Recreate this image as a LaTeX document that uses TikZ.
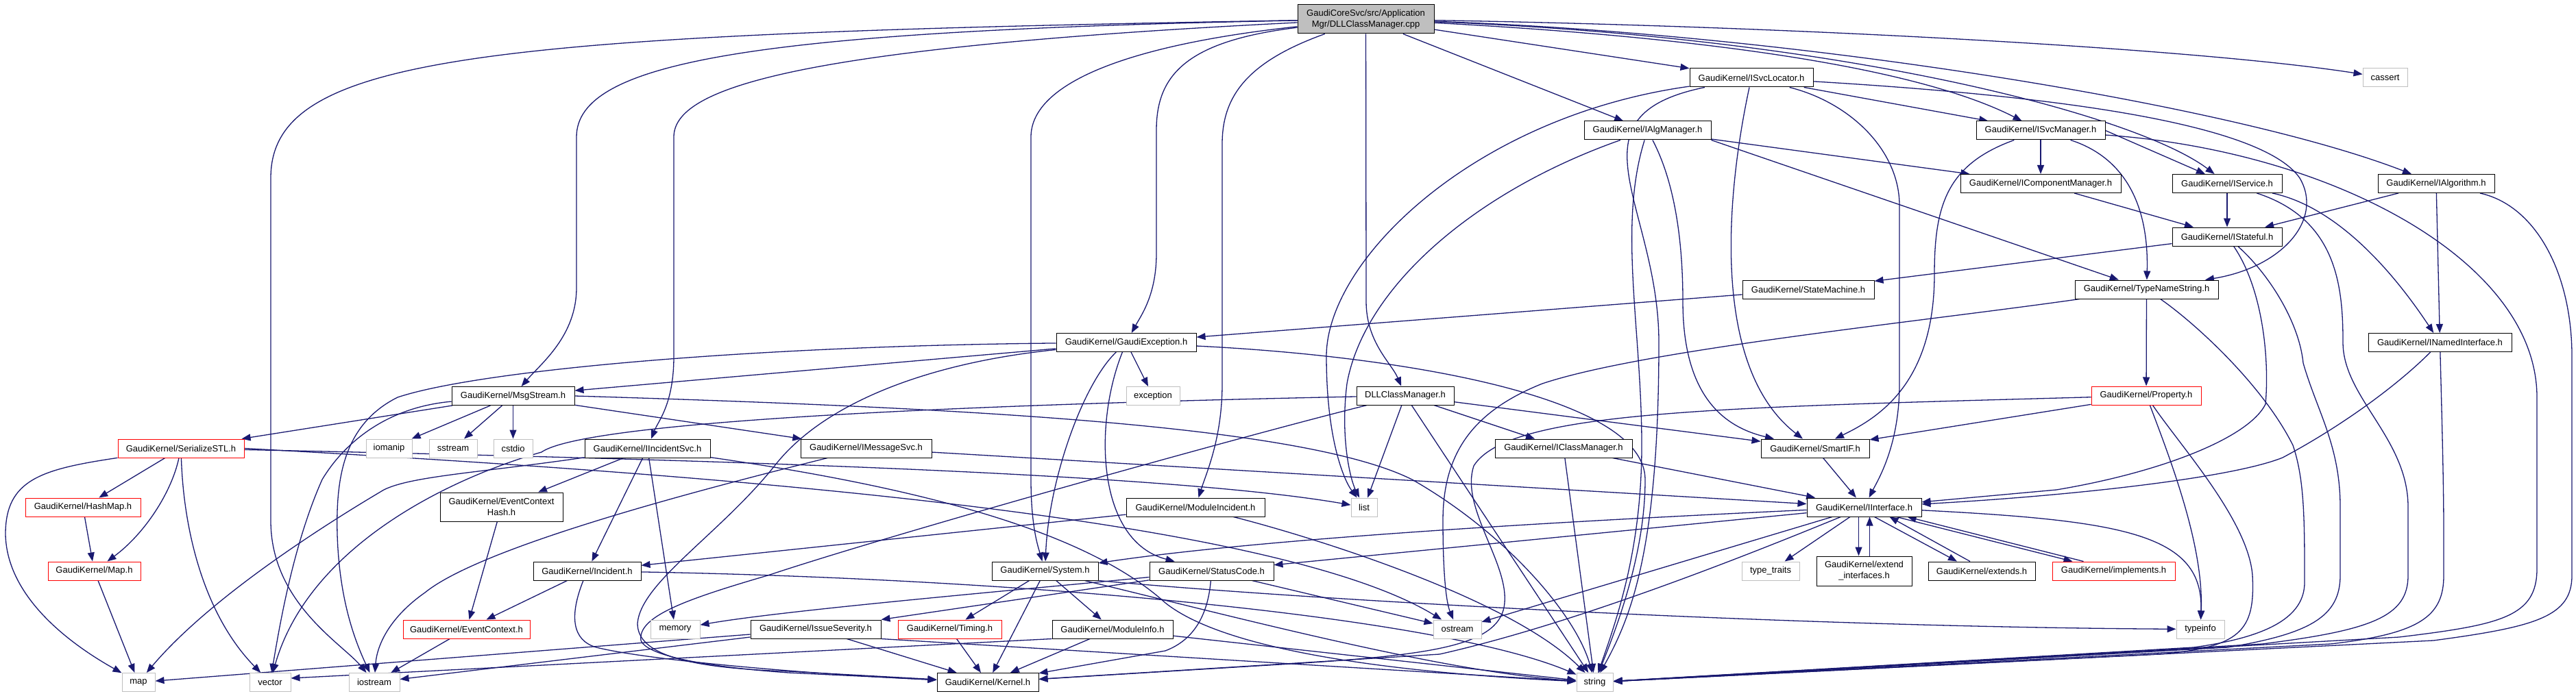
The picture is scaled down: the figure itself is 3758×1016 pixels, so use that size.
\documentclass[tikz,border=0pt]{standalone}
\usepackage{fontspec}
\setmainfont{Liberation Sans}
\usetikzlibrary{arrows.meta}
\definecolor{edgec}{HTML}{191970}
\definecolor{gbord}{HTML}{BFBFBF}
\pgfdeclarelayer{bg}
\pgfsetlayers{bg,main}
\tikzset{
 gbox/.style={draw=black, fill=white, line width=1pt, inner sep=0pt, minimum height=27pt, align=center, font=\fontsize{13}{16}\selectfont},
 rbox/.style={gbox, draw=red},
 sbox/.style={gbox, draw=gbord},
 edg/.style={draw=edgec, line width=1.3pt, -{Triangle[length=13pt,width=10pt]}},
}
\newcommand\gnode[6]{\node[#1, minimum width=#5pt] (#2) at (#3,#4) {#6};}
\begin{document}
\begin{tikzpicture}[x=1pt,y=-1pt]
\useasboundingbox (0,0) rectangle (3758,1016);
\gnode{gbox,fill=gbord,minimum height=42pt}{root}{1992.5}{28}{199}{GaudiCoreSvc/src/Application\\Mgr/DLLClassManager.cpp}
\gnode{gbox}{isl}{2555}{113.5}{180}{GaudiKernel/ISvcLocator.h}
\gnode{sbox}{cassert}{3479.5}{113.5}{65}{cassert}
\gnode{gbox}{ialg}{2403.5}{190.5}{185}{GaudiKernel/IAlgManager.h}
\gnode{gbox}{ism}{2977}{190.5}{188}{GaudiKernel/ISvcManager.h}
\gnode{gbox}{icm}{2977}{268}{234}{GaudiKernel/IComponentManager.h}
\gnode{gbox}{isvc}{3249}{268}{160}{GaudiKernel/IService.h}
\gnode{gbox}{ialgo}{3554}{268}{170}{GaudiKernel/IAlgorithm.h}
\gnode{gbox}{istf}{3249}{345.5}{160}{GaudiKernel/IStateful.h}
\gnode{gbox}{sm}{2638}{422.5}{192}{GaudiKernel/StateMachine.h}
\gnode{gbox}{tns}{3131.5}{422.5}{209}{GaudiKernel/TypeNameString.h}
\gnode{gbox}{gexc}{1643}{500}{204}{GaudiKernel/GaudiException.h}
\gnode{gbox}{inamed}{3559.5}{500}{209}{GaudiKernel/INamedInterface.h}
\gnode{gbox}{msg}{748.5}{578}{179}{GaudiKernel/MsgStream.h}
\gnode{gbox}{dllh}{2050}{577.5}{142}{DLLClassManager.h}
\gnode{sbox}{exc}{1682}{578}{78}{exception}
\gnode{rbox}{prop}{3131}{577.5}{160}{GaudiKernel/Property.h}
\gnode{rbox}{sstl}{264}{654.5}{184}{GaudiKernel/SerializeSTL.h}
\gnode{sbox}{iomanip}{567.5}{654.5}{67}{iomanip}
\gnode{sbox}{sstream}{661}{654.5}{70}{sstream}
\gnode{sbox}{cstdio}{748.5}{654.5}{57}{cstdio}
\gnode{gbox}{iis}{944.5}{654.5}{183}{GaudiKernel/IIncidentSvc.h}
\gnode{gbox}{ims}{1263.5}{654.5}{191}{GaudiKernel/IMessageSvc.h}
\gnode{gbox}{icls}{2281}{654.5}{200}{GaudiKernel/IClassManager.h}
\gnode{gbox}{smartif}{2648}{654.5}{158}{GaudiKernel/SmartIF.h}
\gnode{rbox}{hashmap}{121}{740.5}{168}{GaudiKernel/HashMap.h}
\gnode{gbox,minimum height=42pt}{ech}{731.5}{740}{179}{GaudiKernel/EventContext\\Hash.h}
\gnode{gbox}{modinc}{1744}{740.5}{202}{GaudiKernel/ModuleIncident.h}
\gnode{sbox}{list}{1990}{740.5}{38}{list}
\gnode{gbox}{iint}{2719.5}{740.5}{167}{GaudiKernel/IInterface.h}
\gnode{rbox}{mapk}{137.5}{833.5}{135}{GaudiKernel/Map.h}
\gnode{gbox}{incident}{856.5}{833.5}{157}{GaudiKernel/Incident.h}
\gnode{gbox}{sys}{1524.5}{833.5}{155}{GaudiKernel/System.h}
\gnode{gbox}{statc}{1767.5}{833.5}{181}{GaudiKernel/StatusCode.h}
\gnode{sbox}{tt}{2583}{833.5}{84}{type\_traits}
\gnode{gbox,minimum height=43pt}{extif}{2719.5}{833.5}{139}{GaudiKernel/extend\\\_interfaces.h}
\gnode{gbox}{extends}{2891}{833.5}{156}{GaudiKernel/extends.h}
\gnode{rbox}{impl}{3083.5}{833.5}{179}{GaudiKernel/implements.h}
\gnode{rbox}{evctx}{680.5}{918.5}{185}{GaudiKernel/EventContext.h}
\gnode{sbox}{memory}{985}{918.5}{72}{memory}
\gnode{gbox}{isev}{1190}{918.5}{190}{GaudiKernel/IssueSeverity.h}
\gnode{rbox}{timing}{1385.5}{918.5}{151}{GaudiKernel/Timing.h}
\gnode{gbox}{modinfo}{1623}{918.5}{176}{GaudiKernel/ModuleInfo.h}
\gnode{sbox}{ostream}{2126}{918.5}{70}{ostream}
\gnode{sbox}{typeinfo}{3210}{918.5}{70}{typeinfo}
\gnode{sbox}{stdmap}{202}{996}{48}{map}
\gnode{sbox}{vector}{394}{996}{60}{vector}
\gnode{sbox}{iostream}{546}{996}{74}{iostream}
\gnode{gbox}{kernel}{1441}{996}{148}{GaudiKernel/Kernel.h}
\gnode{sbox}{string}{2326.5}{996}{53}{string}

\begin{pgfonlayer}{bg}
% root
\draw[edg] (root) .. controls (700,50) and (395,80) .. (395,260) -- (395,760) .. controls (395,880) and (500,940) .. (iostream);
\draw[edg] (root) .. controls (1100,45) and (841,90) .. (841,200) -- (841,420) .. controls (841,490) and (790,530) .. (msg);
\draw[edg] (root) .. controls (1150,70) and (983,130) .. (983,200) -- (983,520) .. controls (983,590) and (960,615) .. (iis);
\draw[edg] (root) .. controls (1650,65) and (1504,120) .. (1504,200) -- (1504,700) .. controls (1504,770) and (1515,800) .. (sys);
\draw[edg] (root) .. controls (1730,60) and (1687,110) .. (1687,190) -- (1687,370) .. controls (1687,430) and (1665,460) .. (gexc);
\draw[edg] (root) .. controls (1820,90) and (1783,140) .. (1783,210) -- (1783,560) .. controls (1783,640) and (1760,690) .. (modinc);
\draw[edg] (root) -- (1993,440) .. controls (1993,500) and (2030,530) .. (dllh);
\draw[edg] (root) -- (ialg);
\draw[edg] (root) -- (isl);
\draw[edg] (root) .. controls (2500,55) and (2800,100) .. (ism);
\draw[edg] (root) .. controls (2700,55) and (3120,170) .. (isvc);
\draw[edg] (root) .. controls (2600,48) and (3250,150) .. (ialgo);
\draw[edg] (root) .. controls (2600,38) and (3200,70) .. (cassert);
% ISvcLocator
\draw[edg] (isl) -- (ism);
\draw[edg] (isl) .. controls (2150,170) and (1935,380) .. (1935,520) .. controls (1935,640) and (1960,700) .. (list);
\draw[edg] (isl) .. controls (2280,170) and (2420,300) .. (2420,500) .. controls (2420,800) and (2380,900) .. (string);
\draw[edg] (isl) .. controls (2515,300) and (2500,540) .. (smartif);
\draw[edg] (isl) .. controls (2700,150) and (2771,220) .. (2771,300) -- (2771,560) .. controls (2771,650) and (2740,700) .. (iint);
\draw[edg] (isl) .. controls (3000,140) and (3300,180) .. (3355,260) .. controls (3390,320) and (3330,390) .. (tns);
% IAlgManager
\draw[edg] (ialg) -- (icm);
\draw[edg] (ialg.south east) -- (tns);
\draw[edg] (ialg) .. controls (2150,280) and (1990,420) .. (1965,560) .. controls (1955,640) and (1970,700) .. (list);
\draw[edg] (ialg) .. controls (2360,330) and (2395,480) .. (2395,650) .. controls (2395,800) and (2360,900) .. (string);
\draw[edg] (ialg) .. controls (2440,260) and (2455,340) .. (2455,440) .. controls (2455,560) and (2500,620) .. (smartif);
% ISvcManager
\draw[edg] (ism) -- (icm);
\draw[edg] (ism.east) -- (isvc);
\draw[edg] (ism) .. controls (3100,230) and (3135,300) .. (tns);
\draw[edg] (ism) .. controls (2840,240) and (2822,300) .. (2822,400) .. controls (2822,560) and (2740,610) .. (smartif);
\draw[edg] (ism) .. controls (3400,220) and (3701,380) .. (3701,580) -- (3701,830) .. controls (3701,900) and (3650,912) .. (3500,930) -- (string);
% IComponentManager, IService, IAlgorithm
\draw[edg] (icm) -- (istf);
\draw[edg] (isvc) -- (istf);
\draw[edg] (isvc) .. controls (3400,300) and (3480,380) .. (inamed);
\draw[edg] (isvc) .. controls (3410,320) and (3418,420) .. (3418,500) .. controls (3418,580) and (3513,640) .. (3513,740) -- (3513,840) .. controls (3513,900) and (3460,920) .. (3300,940) -- (string);
\draw[edg] (ialgo) -- (istf);
\draw[edg] (ialgo) -- (inamed);
\draw[edg] (ialgo) .. controls (3700,300) and (3752,400) .. (3752,520) -- (3752,840) .. controls (3752,900) and (3700,915) .. (3550,935) -- (string);
% IStateful
\draw[edg] (istf) -- (sm);
\draw[edg] (istf) .. controls (3300,420) and (3311,520) .. (3305,590) .. controls (3280,640) and (3150,690) .. (3000,715) -- (iint);
\draw[edg] (istf) .. controls (3310,400) and (3354,470) .. (3360,530) .. controls (3380,600) and (3414,650) .. (3414,740) -- (3414,840) .. controls (3414,900) and (3370,925) .. (3250,945) -- (string);
\draw[edg] (sm) -- (gexc);
% TypeNameString
\draw[edg] (tns) -- (prop);
\draw[edg] (tns) .. controls (3200,470) and (3300,560) .. (3345,650) .. controls (3362,700) and (3362,760) .. (3362,850) .. controls (3362,900) and (3310,930) .. (3200,945) -- (string);
\draw[edg] (tns) .. controls (2800,470) and (2400,510) .. (2250,560) .. controls (2150,600) and (2105,660) .. (2105,760) .. controls (2105,840) and (2110,880) .. (ostream);
% INamedInterface
\draw[edg] (inamed) .. controls (3500,560) and (3420,620) .. (3330,668) .. controls (3250,700) and (3000,725) .. (iint);
\draw[edg] (inamed) .. controls (3562,600) and (3565,700) .. (3565,780) -- (3565,840) .. controls (3565,900) and (3530,925) .. (3400,940) -- (string);
% Property
\draw[edg] (prop) -- (smartif);
\draw[edg] (prop) .. controls (3170,680) and (3215,800) .. (typeinfo);
\draw[edg] (prop) .. controls (3180,650) and (3280,760) .. (3286,840) .. controls (3290,920) and (3270,945) .. (3150,955) -- (string);
\draw[edg] (prop) .. controls (2500,595) and (2200,600) .. (2150,680) .. controls (2130,740) and (2200,820) .. (2195,880) .. controls (2190,940) and (2100,955) .. (1900,968) -- (kernel);
% GaudiException
\draw[edg] (gexc) -- (msg);
\draw[edg] (gexc) -- (exc);
\draw[edg] (gexc) .. controls (1580,560) and (1530,700) .. (sys);
\draw[edg] (gexc) .. controls (1595,620) and (1600,790) .. (statc);
\draw[edg] (gexc) .. controls (2050,520) and (2400,580) .. (2400,700) .. controls (2400,800) and (2365,900) .. (string);
\draw[edg] (gexc) .. controls (1100,505) and (700,540) .. (580,580) .. controls (500,620) and (490,700) .. (492,780) .. controls (495,880) and (520,940) .. (iostream);
\draw[edg] (gexc) .. controls (1350,530) and (1200,590) .. (1130,680) .. controls (1050,780) and (935,850) .. (930,910) .. controls (930,955) and (1000,975) .. (1150,980) -- (kernel);
% MsgStream
\draw[edg] (msg) -- (sstream);
\draw[edg] (msg) -- (cstdio);
\draw[edg] (msg) -- (ims);
\draw[edg] (msg) -- (iomanip);
\draw[edg] (msg) -- (sstl);
\draw[edg] (msg) .. controls (560,595) and (500,650) .. (470,700) .. controls (430,790) and (410,900) .. (vector);
\draw[edg] (msg.east) .. controls (1400,595) and (1900,620) .. (2060,700) .. controls (2200,780) and (2300,900) .. (string);
% SerializeSTL
\draw[edg] (sstl) -- (hashmap);
\draw[edg] (sstl) .. controls (250,720) and (210,780) .. (mapk);
\draw[edg] (sstl) .. controls (60,685) and (8,700) .. (8,780) .. controls (10,880) and (120,950) .. (stdmap);
\draw[edg] (sstl) .. controls (268,780) and (300,900) .. (vector);
\draw[edg] (sstl) .. controls (1000,670) and (1700,690) .. (list);
\draw[edg] (sstl.east) .. controls (1000,690) and (1850,750) .. (ostream);
\draw[edg] (hashmap) -- (mapk);
\draw[edg] (mapk) -- (stdmap);
% IIncidentSvc
\draw[edg] (iis) -- (ech);
\draw[edg] (iis) -- (incident);
\draw[edg] (iis) -- (memory);
\draw[edg] (iis) .. controls (1400,720) and (1600,790) .. (1700,880) .. controls (1800,960) and (2100,985) .. (string);
\draw[edg] (iis) .. controls (700,690) and (600,695) .. (560,715) .. controls (450,780) and (300,880) .. (stdmap);
% IMessageSvc
\draw[edg] (ims) -- (iint);
\draw[edg] (ims) .. controls (1000,720) and (700,800) .. (620,865) .. controls (570,900) and (550,940) .. (iostream);
% EventContext, Incident, ModuleIncident
\draw[edg] (ech) -- (evctx);
\draw[edg] (incident) -- (evctx);
\draw[edg] (evctx) -- (iostream);
\draw[edg] (incident) .. controls (830,900) and (835,935) .. (870,945) .. controls (950,965) and (1200,985) .. (kernel);
\draw[edg] (incident) .. controls (1500,845) and (2100,900) .. (string);
\draw[edg] (modinc) -- (incident);
\draw[edg] (modinc) .. controls (1900,780) and (2200,870) .. (string);
% DLLClassManager.h
\draw[edg] (dllh) -- (icls);
\draw[edg] (dllh) -- (list);
\draw[edg] (dllh) -- (string);
\draw[edg] (dllh) -- (smartif);
\draw[edg] (dllh) .. controls (1800,640) and (1300,780) .. (1120,840) .. controls (1000,875) and (930,900) .. (935,935) .. controls (945,960) and (1050,975) .. (1150,982) -- (kernel);
\draw[edg] (dllh) .. controls (1200,595) and (840,625) .. (790,660) .. controls (650,700) and (450,800) .. (vector);
% System
\draw[edg] (sys) -- (kernel);
\draw[edg] (sys) -- (timing);
\draw[edg] (sys) -- (modinfo);
\draw[edg] (sys.south east) .. controls (1900,875) and (2600,915) .. (typeinfo);
\draw[edg] (sys) .. controls (1800,900) and (2100,980) .. (string);
% StatusCode
\draw[edg] (statc) -- (isev);
\draw[edg] (statc) .. controls (1762,900) and (1740,935) .. (1700,950) -- (kernel);
\draw[edg] (statc) -- (ostream);
\draw[edg] (statc) .. controls (1500,860) and (1150,890) .. (memory);
% IssueSeverity, Timing, ModuleInfo
\draw[edg] (isev) -- (stdmap);
\draw[edg] (isev) -- (iostream);
\draw[edg] (isev) -- (kernel);
\draw[edg] (isev.south east) -- (string);
\draw[edg] (timing) -- (kernel);
\draw[edg] (modinfo) -- (kernel);
\draw[edg] (modinfo) -- (string);
\draw[edg] (modinfo.south west) -- ([yshift=6pt]vector.east);
% IClassManager, SmartIF
\draw[edg] (icls) -- (iint);
\draw[edg] (icls) -- (string);
\draw[edg] (smartif) -- (iint);
% IInterface
\draw[edg] (iint) -- (tt);
\draw[edg] ([xshift=-8pt]iint.south) -- ([xshift=-8pt]extif.north);
\draw[edg] ([xshift=8pt]extif.north) -- ([xshift=8pt]iint.south);
\draw[edg] ([xshift=15pt]iint.south) -- ([xshift=-36pt]extends.north);
\draw[edg] ([xshift=-17pt]extends.north) -- ([xshift=37pt]iint.south);
\draw[edg] ([xshift=47pt]iint.south) -- ([xshift=-60pt]impl.north);
\draw[edg] ([xshift=-44pt]impl.north) -- ([xshift=63pt]iint.south);
\draw[edg] (iint) .. controls (2300,760) and (1850,785) .. (sys);
\draw[edg] (iint) -- (statc);
\draw[edg] (iint) -- (ostream);
\draw[edg] (iint) .. controls (2550,810) and (2300,910) .. (2100,955) -- (kernel);
\draw[edg] (iint) .. controls (3100,760) and (3215,780) .. (typeinfo);
\end{pgfonlayer}
\end{tikzpicture}
\end{document}
